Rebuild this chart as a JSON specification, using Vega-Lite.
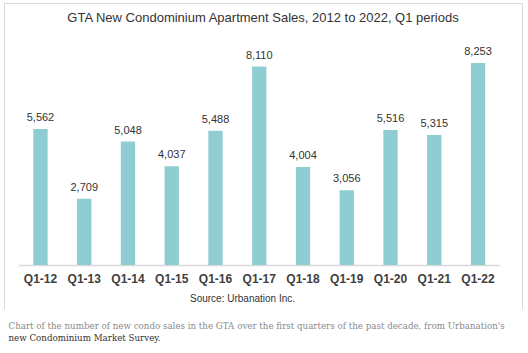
{
  "$schema": "https://vega.github.io/schema/vega-lite/v6.json",
  "padding": {"left": 3, "top": 2, "right": 7, "bottom": 5},
  "background": "white",
  "config": {
    "view": {"stroke": "#d9d9d9", "strokeWidth": 1, "strokeDash": [824, 518, 306]},
    "font": "Liberation Sans"
  },
  "title": {
    "text": "Chart of the number of new condo sales in the GTA over the first quarters of the past decade, from Urbanation's",
    "subtitle": "new Condominium Market Survey.",
    "orient": "bottom",
    "anchor": "start",
    "frame": "bounds",
    "dx": 5,
    "offset": 12,
    "font": "DejaVu Serif",
    "fontSize": 8.7,
    "fontWeight": "normal",
    "color": "#8a8a8a",
    "subtitleFont": "DejaVu Serif",
    "subtitleFontSize": 8.7,
    "subtitleColor": "#333333",
    "subtitlePadding": 4
  },
  "vconcat": [
    {
      "width": 518,
      "height": 306,
      "title": {
        "text": "GTA New Condominium Apartment Sales, 2012 to 2022, Q1 periods",
        "offset": -22,
        "fontSize": 13,
        "fontWeight": "normal",
        "color": "#333333",
        "anchor": "middle",
        "frame": "group"
      },
      "data": {
        "values": [
          {"period": "Q1-12", "sales": 5562},
          {"period": "Q1-13", "sales": 2709},
          {"period": "Q1-14", "sales": 5048},
          {"period": "Q1-15", "sales": 4037},
          {"period": "Q1-16", "sales": 5488},
          {"period": "Q1-17", "sales": 8110},
          {"period": "Q1-18", "sales": 4004},
          {"period": "Q1-19", "sales": 3056},
          {"period": "Q1-20", "sales": 5516},
          {"period": "Q1-21", "sales": 5315},
          {"period": "Q1-22", "sales": 8253}
        ]
      },
      "encoding": {
        "x": {
          "field": "period",
          "type": "nominal",
          "sort": null,
          "scale": {"range": [14.6, 495.9], "paddingInner": 0.673, "paddingOuter": 0.3365},
          "axis": {
            "title": "Source: Urbanation Inc.",
            "titleFontSize": 10,
            "titleFontWeight": "normal",
            "titleColor": "#333333",
            "titlePadding": 9,
            "titleX": 238,
            "labelAngle": 0,
            "labelFontSize": 12,
            "labelFontWeight": "bold",
            "labelColor": "#404040",
            "labelPadding": 8,
            "ticks": false,
            "tickSize": 0,
            "domainColor": "#d9d9d9",
            "domainWidth": 1.5,
            "offset": -44,
            "grid": false
          }
        },
        "y": {
          "field": "sales",
          "type": "quantitative",
          "scale": {"domain": [-1799, 10711], "nice": false, "zero": false},
          "axis": null
        }
      },
      "layer": [
        {"mark": {"type": "bar", "color": "#8FCDD3"}, "encoding": {"y2": {"datum": 0}}},
        {
          "mark": {"type": "text", "dy": -8, "baseline": "alphabetic", "fontSize": 11, "color": "#333333"},
          "encoding": {"text": {"field": "sales", "type": "quantitative", "format": ","}}
        }
      ]
    }
  ]
}
